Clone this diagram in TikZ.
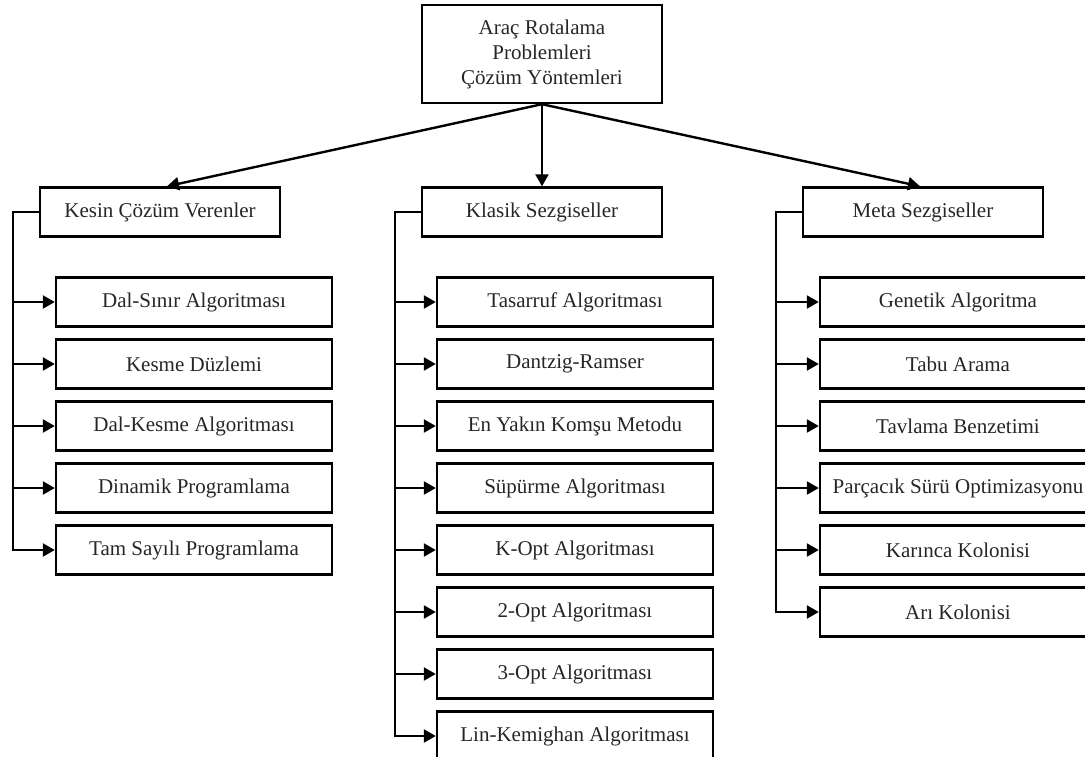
\documentclass[tikz,border=0pt]{standalone}
\usepackage{fontspec}
\setmainfont{Liberation Serif}
\usetikzlibrary{arrows.meta}
\begin{document}
\begin{tikzpicture}[x=1pt,y=-1pt,
  box/.style={draw, line width=2.4pt, inner sep=0pt, align=center,
    font=\fontsize{21}{25}\selectfont, text=black!85},
  catbox/.style={box, minimum width=240pt, minimum height=49pt},
  leafbox/.style={box, minimum width=276pt, minimum height=49pt},
  link/.style={line width=2.4pt, -{Triangle[length=12pt,width=13pt]}}]
\useasboundingbox (0,0) rectangle (1085,756);
\clip (0,0) rectangle (1085,756);

% root
\node[box, minimum width=240pt, minimum height=98pt] (root) at (542,54)
  {Araç Rotalama\\Problemleri\\Çözüm Yöntemleri};

% categories
\node[catbox] (c1) at (160,212) {Kesin Çözüm Verenler};
\node[catbox] (c2) at (542,212) {Klasik Sezgiseller};
\node[catbox] (c3) at (923,212) {Meta Sezgiseller};

\draw[link] (root.south) -- ([xshift=7pt]c1.north);
\draw[link] (root.south) -- (c2.north);
\draw[link] (root.south) -- ([xshift=-3pt]c3.north);

% spines
\coordinate (s1) at (13,212);
\coordinate (s2) at (395,212);
\coordinate (s3) at (776,212);

% exact methods
\foreach \t [count=\i] in {Dal-Sınır Algoritması, Kesme Düzlemi,
    Dal-Kesme Algoritması, Dinamik Programlama, Tam Sayılı Programlama}
  \node[leafbox] (a\i) at (194,{240+62*\i}) {\t};
\draw[link] (c1.west) -- (s1) |- (a5.west);
\foreach \i in {1,...,4} \draw[link] (s1 |- a\i.west) -- (a\i.west);

% classical heuristics
\foreach \t [count=\i] in {Tasarruf Algoritması, Dantzig-Ramser,
    En Yakın Komşu Metodu, Süpürme Algoritması, K-Opt Algoritması,
    2-Opt Algoritması, 3-Opt Algoritması, Lin-Kemighan Algoritması}
  \node[leafbox] (b\i) at (575,{240+62*\i}) {\t};
\draw[link] (c2.west) -- (s2) |- (b8.west);
\foreach \i in {1,...,7} \draw[link] (s2 |- b\i.west) -- (b\i.west);

% metaheuristics
\foreach \t [count=\i] in {Genetik Algoritma, Tabu Arama, Tavlama Benzetimi,
    Parçacık Sürü Optimizasyonu, Karınca Kolonisi, Arı Kolonisi}
  \node[leafbox] (m\i) at (958,{240+62*\i}) {\t};
\draw[link] (c3.west) -- (s3) |- (m6.west);
\foreach \i in {1,...,5} \draw[link] (s3 |- m\i.west) -- (m\i.west);
\end{tikzpicture}
\end{document}
